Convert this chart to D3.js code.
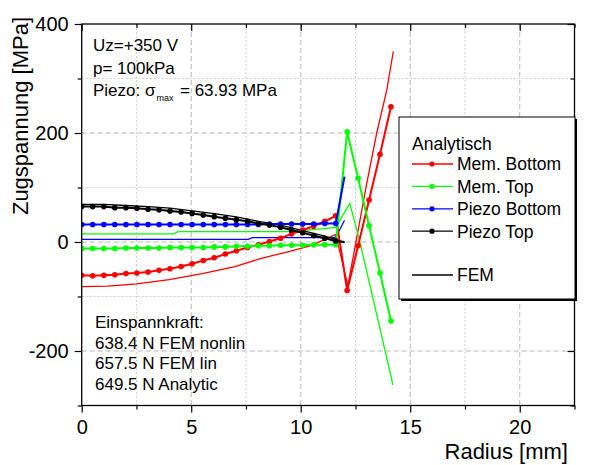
<!DOCTYPE html>
<html>
<head>
<meta charset="utf-8">
<script src="https://cdn.jsdelivr.net/npm/d3@7"></script>
<style>
  html, body { margin: 0; padding: 0; background: #fff; }
  svg { display: block; font-family: "Liberation Sans", Arial, sans-serif; }
</style>
</head>
<body>
<svg id="chart" width="592" height="465"></svg>
<script>
// Radial positions of the analytic solution (piezo region, then bare membrane)
const rPiezo = [0, 0.50, 1.01, 1.51, 2.02, 2.52, 3.03, 3.53, 4.03, 4.54, 5.04, 5.55,
                6.05, 6.56, 7.06, 7.57, 8.07, 8.57, 9.08, 9.58, 10.09, 10.59, 11.10, 11.60];
const rMembrane = [12.12, 12.62, 13.12, 13.62, 14.12];

// Analytic stresses [MPa]
const memBottomPiezo = [-61, -62, -61, -60, -58, -57, -55, -52, -49, -45, -40, -34,
                        -29, -22, -16, -10, -5, 1, 7, 15, 22, 29, 38, 48];
const memBottomOuter = [-89, -7, 77, 161, 248];
const memTopPiezo = [-12, -12, -12, -12, -11, -11, -11, -11, -10, -10, -10, -10,
                     -9, -9, -8, -8, -7, -7, -6, -6, -6, -5, -5, -5];
const memTopOuter = [202, 117, 30, -57, -145];
const piezoBottom = [32, 32, 32, 32, 32, 32, 32, 32, 32, 32, 32, 32,
                     32, 32, 32, 32, 32, 33, 33, 33, 33, 33, 34, 34];
const piezoBottomEdge = [[12.0, 120]];
const piezoTop = [65, 65, 65, 63, 63, 62, 60, 59, 57, 55, 52.5, 49.5,
                  46.5, 43.5, 41, 38, 34, 31, 27, 22, 17, 12, 7, 2];
const piezoTopEdge = [[12.0, 0]];

// FEM results [r mm, MPa]
const femMemBottom = [[0, -82], [1.2, -81], [2.5, -77], [4, -69], [5.5, -58], [7, -45],
                      [8.2, -30], [9.5, -17], [10.5, -6], [11.6, 14], [12.15, -80],
                      [12.5, -5], [13.0, 105], [13.47, 200], [13.93, 279], [14.23, 350]];
const femMemTop = [[0, 15], [4.2, 15], [4.4, 19], [9.6, 19], [11.6, 27], [12.24, 71],
                   [12.68, 4], [14.16, -253], [14.2, -262]];
const femPiezoBottom = [[0, 5], [7.6, 5], [7.8, 8], [11.55, 8], [11.7, 16], [12.0, 40]];
const femPiezoTop = [[0, 69], [1.01, 69], [2.02, 67], [3.03, 65], [4.03, 62], [5.04, 57],
                     [6.05, 52], [7.06, 46], [8.07, 38], [9.08, 31], [10.09, 21],
                     [11.10, 11], [11.60, 5], [12.0, -1]];

// Axis ticks
const xMajor = [0, 5, 10, 15, 20];
const xMinor = [2.5, 7.5, 12.5, 17.5, 22.5];
const yMajor = [400, 200, 0, -200];
const yMinor = [300, 100, -100, -300];

const legendNames = ["Mem. Bottom", "Mem. Top", "Piezo Bottom", "Piezo Top"];
const seriesColors = ["#ff0000", "#00ff00", "#0000ff", "#000000"];

const svg = d3.select("#chart");
const x = d3.scaleLinear().domain([0, 22.5]).range([81.7, 574.5]);
const y = d3.scaleLinear().domain([-300, 400]).range([405.5, 24]);
const pLeft = x(0), pRight = x(22.5), pTop = y(400), pBottom = y(-300);
const plainNum = d => String(d);   // hyphen-minus, as in the axis labels

svg.append("defs").append("clipPath").attr("id", "plotclip")
  .append("rect").attr("x", pLeft).attr("y", pTop)
  .attr("width", pRight - pLeft).attr("height", pBottom - pTop);

// Grid
const grid = svg.append("g");
xMajor.filter(v => v > 0).forEach(v => grid.append("line")
  .attr("x1", x(v)).attr("x2", x(v)).attr("y1", pTop).attr("y2", pBottom)
  .attr("stroke", "#b8b8b8").attr("stroke-dasharray", "5,3"));
xMinor.filter(v => v < 22.5).forEach(v => grid.append("line")
  .attr("x1", x(v)).attr("x2", x(v)).attr("y1", pTop).attr("y2", pBottom)
  .attr("stroke", "#cfcfcf").attr("stroke-dasharray", "2,2"));
yMajor.filter(v => v < 400).forEach(v => grid.append("line")
  .attr("x1", pLeft).attr("x2", pRight).attr("y1", y(v)).attr("y2", y(v))
  .attr("stroke", "#b8b8b8").attr("stroke-dasharray", "5,3"));
yMinor.filter(v => v > -300).forEach(v => grid.append("line")
  .attr("x1", pLeft).attr("x2", pRight).attr("y1", y(v)).attr("y2", y(v))
  .attr("stroke", "#cfcfcf").attr("stroke-dasharray", "2,2"));

// Data
const plot = svg.append("g").attr("clip-path", "url(#plotclip)");
const line = d3.line().x(d => x(d[0])).y(d => y(d[1]));

function pairs(rs, vs) { return rs.map((r, i) => [r, vs[i]]); }
const analytic = [
  pairs(rPiezo, memBottomPiezo).concat(pairs(rMembrane, memBottomOuter)),
  pairs(rPiezo, memTopPiezo).concat(pairs(rMembrane, memTopOuter)),
  pairs(rPiezo, piezoBottom),
  pairs(rPiezo, piezoTop)
];
const analyticEdge = [[], [], piezoBottomEdge, piezoTopEdge];
const fem = [femMemBottom, femMemTop, femPiezoBottom, femPiezoTop];

fem.forEach((d, i) => plot.append("path").datum(d).attr("d", line)
  .attr("fill", "none").attr("stroke", seriesColors[i]).attr("stroke-width", 1.3));

analytic.forEach((d, i) => {
  plot.append("path").datum(d.concat(analyticEdge[i])).attr("d", line)
    .attr("fill", "none").attr("stroke", seriesColors[i]).attr("stroke-width", 2);
  plot.append("g").selectAll("circle").data(d).join("circle")
    .attr("cx", p => x(p[0])).attr("cy", p => y(p[1])).attr("r", 2.8)
    .attr("fill", seriesColors[i]);
});

// Axes
const ax = svg.append("g");
function styleAxis(g) {
  g.select(".domain").remove();
  g.selectAll("line").attr("stroke", "#000").attr("stroke-width", 1.2);
  g.selectAll("text").attr("fill", "#000").attr("font-family", "Liberation Sans, Arial, sans-serif");
}
ax.append("g").attr("transform", `translate(0,${pBottom})`)
  .call(d3.axisBottom(x).tickValues(xMajor).tickSize(7).tickPadding(7).tickFormat(plainNum))
  .call(styleAxis).attr("font-size", 20);
ax.append("g").attr("transform", `translate(0,${pBottom})`)
  .call(d3.axisBottom(x).tickValues(xMinor).tickSize(4).tickFormat(""))
  .call(styleAxis);
ax.append("g").attr("transform", `translate(${pLeft},0)`)
  .call(d3.axisLeft(y).tickValues(yMajor).tickSize(7).tickPadding(6).tickFormat(plainNum))
  .call(styleAxis).attr("font-size", 20);
ax.append("g").attr("transform", `translate(${pLeft},0)`)
  .call(d3.axisLeft(y).tickValues(yMinor).tickSize(4).tickFormat(""))
  .call(styleAxis);
ax.append("g").attr("transform", `translate(0,${pTop})`)
  .call(d3.axisTop(x).tickValues(xMajor).tickSize(-7).tickFormat(""))
  .call(styleAxis);
ax.append("g").attr("transform", `translate(0,${pTop})`)
  .call(d3.axisTop(x).tickValues(xMinor).tickSize(-4).tickFormat(""))
  .call(styleAxis);
ax.append("g").attr("transform", `translate(${pRight},0)`)
  .call(d3.axisRight(y).tickValues(yMajor).tickSize(-7).tickFormat(""))
  .call(styleAxis);
ax.append("g").attr("transform", `translate(${pRight},0)`)
  .call(d3.axisRight(y).tickValues(yMinor).tickSize(-4).tickFormat(""))
  .call(styleAxis);

// Frame
svg.append("rect").attr("x", pLeft).attr("y", pTop)
  .attr("width", pRight - pLeft).attr("height", pBottom - pTop)
  .attr("fill", "none").attr("stroke", "#000").attr("stroke-width", 1.3);

// Axis titles
svg.append("text").attr("x", 568).attr("y", 459).attr("text-anchor", "end")
  .attr("font-size", 22).text("Radius [mm]");
svg.append("text").attr("transform", "translate(28,116) rotate(-90)")
  .attr("text-anchor", "middle").attr("font-size", 22).text("Zugspannung [MPa]");

// Annotations
const note = svg.append("g").attr("font-size", 17);
note.append("text").attr("x", 93).attr("y", 51).text("Uz=+350 V");
note.append("text").attr("x", 93).attr("y", 73.5).text("p= 100kPa");
const sig = note.append("text").attr("x", 93).attr("y", 96);
sig.append("tspan").text("Piezo: σ");
sig.append("tspan").attr("font-size", 9).attr("dy", 5).attr("dx", 1).text("max");
sig.append("tspan").attr("x", 180).attr("dy", -5).text("= 63.93 MPa");

const force = ["Einspannkraft:", "638.4 N FEM nonlin", "657.5 N FEM lin", "649.5 N Analytic"];
force.forEach((t, i) => note.append("text").attr("x", 95).attr("y", 328 + i * 20.7).text(t));

// Legend
const lg = svg.append("g");
lg.append("rect").attr("x", 401).attr("y", 119).attr("width", 176).attr("height", 182).attr("fill", "#000");
lg.append("rect").attr("x", 399).attr("y", 117).attr("width", 176).attr("height", 182)
  .attr("fill", "#fff").attr("stroke", "#000").attr("stroke-width", 1);
lg.append("text").attr("x", 412).attr("y", 149.5).attr("font-size", 17.5).text("Analytisch");
legendNames.forEach((n, i) => {
  const cy = 164 + i * 22.4;
  lg.append("line").attr("x1", 412).attr("x2", 453).attr("y1", cy).attr("y2", cy)
    .attr("stroke", seriesColors[i]).attr("stroke-width", 1.3);
  lg.append("circle").attr("cx", 432).attr("cy", cy).attr("r", 2.6).attr("fill", seriesColors[i]);
  lg.append("text").attr("x", 457).attr("y", cy + 6.3).attr("font-size", 17.5).text(n);
});
lg.append("line").attr("x1", 412).attr("x2", 453).attr("y1", 275).attr("y2", 275)
  .attr("stroke", "#000").attr("stroke-width", 1.3);
lg.append("text").attr("x", 457).attr("y", 281.3).attr("font-size", 17.5).text("FEM");
</script>
</body>
</html>
